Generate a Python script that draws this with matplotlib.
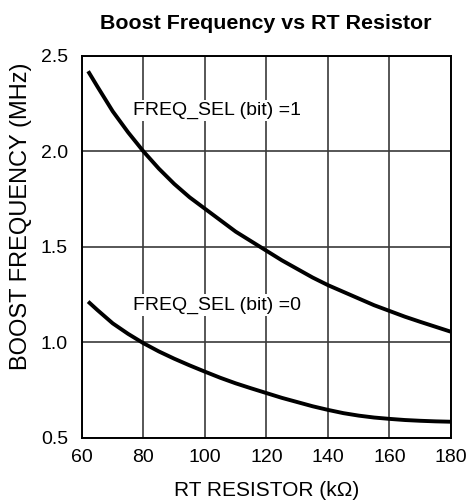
import matplotlib.pyplot as plt

plt.rcParams['font.family'] = ['Liberation Sans', 'DejaVu Sans']

# RT resistor (kOhm) and boost frequency (MHz)
rt_k = [62, 65, 70, 75, 80, 85, 90, 95, 100, 105, 110, 115, 120, 125, 130,
        135, 140, 145, 150, 155, 160, 165, 170, 175, 180]
freq_bit1 = [2.42, 2.34, 2.21, 2.10, 2.00, 1.91, 1.83, 1.76, 1.70, 1.64, 1.58,
             1.53, 1.48, 1.43, 1.385, 1.34, 1.30, 1.265, 1.23, 1.195, 1.165,
             1.135, 1.108, 1.082, 1.056]
freq_bit0 = [1.214, 1.17, 1.10, 1.045, 0.996, 0.953, 0.915, 0.88, 0.847, 0.815,
             0.786, 0.76, 0.735, 0.71, 0.688, 0.666, 0.647, 0.63, 0.617, 0.607,
             0.600, 0.594, 0.590, 0.587, 0.585]

label_bit1 = 'FREQ_SEL (bit) =1'
label_bit0 = 'FREQ_SEL (bit) =0'

fig = plt.figure(figsize=(4.69, 5.04), dpi=100)
ax = fig.add_axes([0.1748, 0.131, 0.7868, 0.758])

ax.plot(rt_k, freq_bit1, color='black', linewidth=2.8, solid_capstyle='butt')
ax.plot(rt_k, freq_bit0, color='black', linewidth=2.8, solid_capstyle='butt')

box = dict(facecolor='white', edgecolor='none', pad=1.5)
ax.text(76.5, 2.215, label_bit1, fontsize=14, va='center', ha='left', bbox=box, zorder=5)
ax.text(76.5, 1.195, label_bit0, fontsize=14, va='center', ha='left', bbox=box, zorder=5)

ax.set_xlim(60, 180)
ax.set_ylim(0.5, 2.5)
ax.set_xticks([60, 80, 100, 120, 140, 160, 180])
ax.set_yticks([0.5, 1.0, 1.5, 2.0, 2.5])
ax.set_yticklabels(['0.5', '1.0', '1.5', '2.0', '2.5'])
ax.tick_params(axis='x', length=0, labelsize=14, pad=8)
ax.tick_params(axis='y', length=0, labelsize=14, pad=10)
ax.grid(True, color='#3a3a3a', linewidth=1.2)
ax.set_axisbelow(True)
for s in ax.spines.values():
    s.set_linewidth(1.4)
    s.set_color('black')

ax.set_xlabel('RT RESISTOR (k\u03a9)', fontsize=15)
ax.xaxis.set_label_coords(0.5, -0.112)
ax.set_ylabel('BOOST FREQUENCY (MHz)', fontsize=17)
ax.yaxis.set_label_coords(-0.135, 0.581)
fig.suptitle('Boost Frequency vs RT Resistor', fontsize=15.4, fontweight='bold',
             x=0.567, y=0.954, va='center')

fig.savefig('out.png', dpi=100)
